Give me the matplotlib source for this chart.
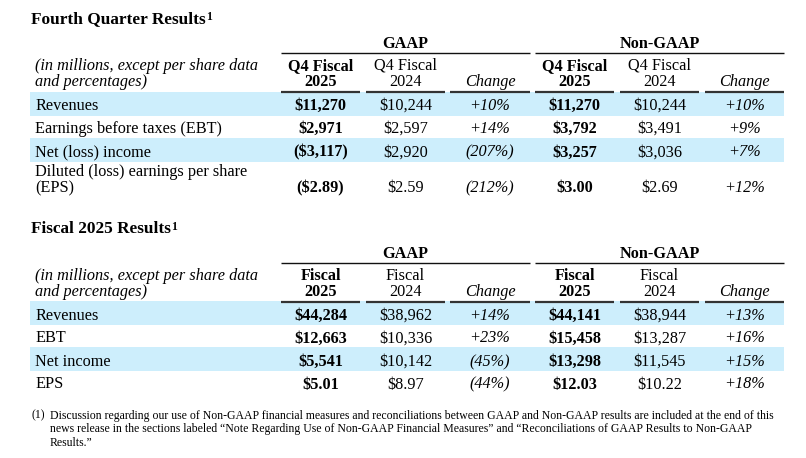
import matplotlib.pyplot as plt

# ---- data ----
q4_title = "Fourth Quarter Results"
q4_labels = [["Revenues"], ["Earnings before taxes (EBT)"], ["Net (loss) income"],
             ["Diluted (loss) earnings per share", "(EPS)"]]
q4_head = [["Q4 Fiscal", "2025"], ["Q4 Fiscal", "2024"], ["", "Change"]]
q4_gaap_cur = ["$11,270", "$2,971", "($3,117)", "($2.89)"]
q4_gaap_prev = ["$10,244", "$2,597", "$2,920", "$2.59"]
q4_gaap_chg = ["+10%", "+14%", "(207%)", "(212%)"]
q4_ng_cur = ["$11,270", "$3,792", "$3,257", "$3.00"]
q4_ng_prev = ["$10,244", "$3,491", "$3,036", "$2.69"]
q4_ng_chg = ["+10%", "+9%", "+7%", "+12%"]

fy_title = "Fiscal 2025 Results"
fy_labels = [["Revenues"], ["EBT"], ["Net income"], ["EPS"]]
fy_head = [["Fiscal", "2025"], ["Fiscal", "2024"], ["", "Change"]]
fy_gaap_cur = ["$44,284", "$12,663", "$5,541", "$5.01"]
fy_gaap_prev = ["$38,962", "$10,336", "$10,142", "$8.97"]
fy_gaap_chg = ["+14%", "+23%", "(45%)", "(44%)"]
fy_ng_cur = ["$44,141", "$15,458", "$13,298", "$12.03"]
fy_ng_prev = ["$38,944", "$13,287", "$11,545", "$10.22"]
fy_ng_chg = ["+13%", "+16%", "+15%", "+18%"]

footnote = [
    "Discussion regarding our use of Non-GAAP financial measures and reconciliations between GAAP and Non-GAAP results are included at the end of this",
    "news release in the sections labeled \u201cNote Regarding Use of Non-GAAP Financial Measures\u201d and \u201cReconciliations of GAAP Results to Non-GAAP",
    "Results.\u201d",
]

# ---- layout (pixel coordinates) ----
FONT = "Liberation Serif"
BODY = 11.7
BAND = "#cdeefc"
RULE = "#333333"
col_spans = [(281, 360), (366, 445), (450, 530), (535, 614), (620, 699), (705, 784)]
groups = [("GAAP", 281, 530), ("Non-GAAP", 535, 784)]

fig = plt.figure(figsize=(8.06, 4.58), dpi=100)
ax = fig.add_axes([0, 0, 1, 1])
ax.set_xlim(0, 806)
ax.set_ylim(458, 0)
ax.axis("off")


def txt(x, y, s, **kw):
    kw.setdefault("fontsize", BODY)
    kw.setdefault("family", FONT)
    kw.setdefault("va", "baseline")
    return ax.text(x, y, s, **kw)


def draw_table(top, title, labels, head, cols, row_tops, row_base):
    # title with superscript
    t = txt(31, top + 23, title, fontsize=12.4, fontweight="bold")
    fig.canvas.draw()
    bb = t.get_window_extent(fig.canvas.get_renderer())
    x_end = ax.transData.inverted().transform((bb.x1, bb.y0))[0]
    txt(x_end + 0.5, top + 19.5, "1", fontsize=8.5, fontweight="bold")

    # group headers
    for name, x0, x1 in groups:
        txt((x0 + x1) / 2, top + 48, name, ha="center", fontweight="bold")
        ax.plot([x0, x1], [top + 53, top + 53], color="#111111", lw=1.0, solid_capstyle="butt")

    # column headers
    txt(35, top + 70, "(in millions, except per share data", style="italic")
    txt(35, top + 86, "and percentages)", style="italic")
    for i, (x0, x1) in enumerate(col_spans):
        h = head[i % 3]
        xc = (x0 + x1) / 2
        if i % 3 == 2:
            txt(xc, top + 86, h[1], ha="center", style="italic")
        else:
            w = "bold" if i % 3 == 0 else "normal"
            txt(xc, top + 70, h[0], ha="center", fontweight=w)
            txt(xc, top + 86, h[1], ha="center", fontweight=w)
        ax.plot([x0, x1], [top + 91.5, top + 91.5], color=RULE, lw=1.6, solid_capstyle="butt")

    # bands
    for j, (y0, y1) in enumerate(row_tops):
        if j % 2 == 0:
            ax.barh((y0 + y1) / 2, 754, height=y1 - y0, left=30, color=BAND, zorder=0)

    # rows
    for j, lab in enumerate(labels):
        base = row_base[j]
        if len(lab) == 2:
            txt(35, base - 16, lab[0])
            txt(35, base, lab[1])
        else:
            txt(35, base, lab[0])
        for i, (x0, x1) in enumerate(col_spans):
            xc = (x0 + x1) / 2
            kind = i % 3
            s = cols[i][j]
            if kind == 0:
                txt(xc, base, s, ha="center", fontweight="bold")
            elif kind == 1:
                txt(xc, base, s, ha="center")
            else:
                txt(xc, base, s, ha="center", style="italic")


draw_table(0, q4_title, q4_labels, q4_head,
           [q4_gaap_cur, q4_gaap_prev, q4_gaap_chg, q4_ng_cur, q4_ng_prev, q4_ng_chg],
           [(92, 116), (116, 138), (138, 162), (162, 200)],
           [109.5, 133, 156.5, 192])

draw_table(210, fy_title, fy_labels, fy_head,
           [fy_gaap_cur, fy_gaap_prev, fy_gaap_chg, fy_ng_cur, fy_ng_prev, fy_ng_chg],
           [(301, 325), (325, 347), (347, 371), (371, 393)],
           [319.5, 342.5, 366, 388.5])

# footnote
txt(31, 418.5, "(1)", fontsize=8.5)
for k, line in enumerate(footnote):
    txt(50, 418.5 + k * 13.5, line, fontsize=8.5)

fig.savefig("out.png", dpi=100)
